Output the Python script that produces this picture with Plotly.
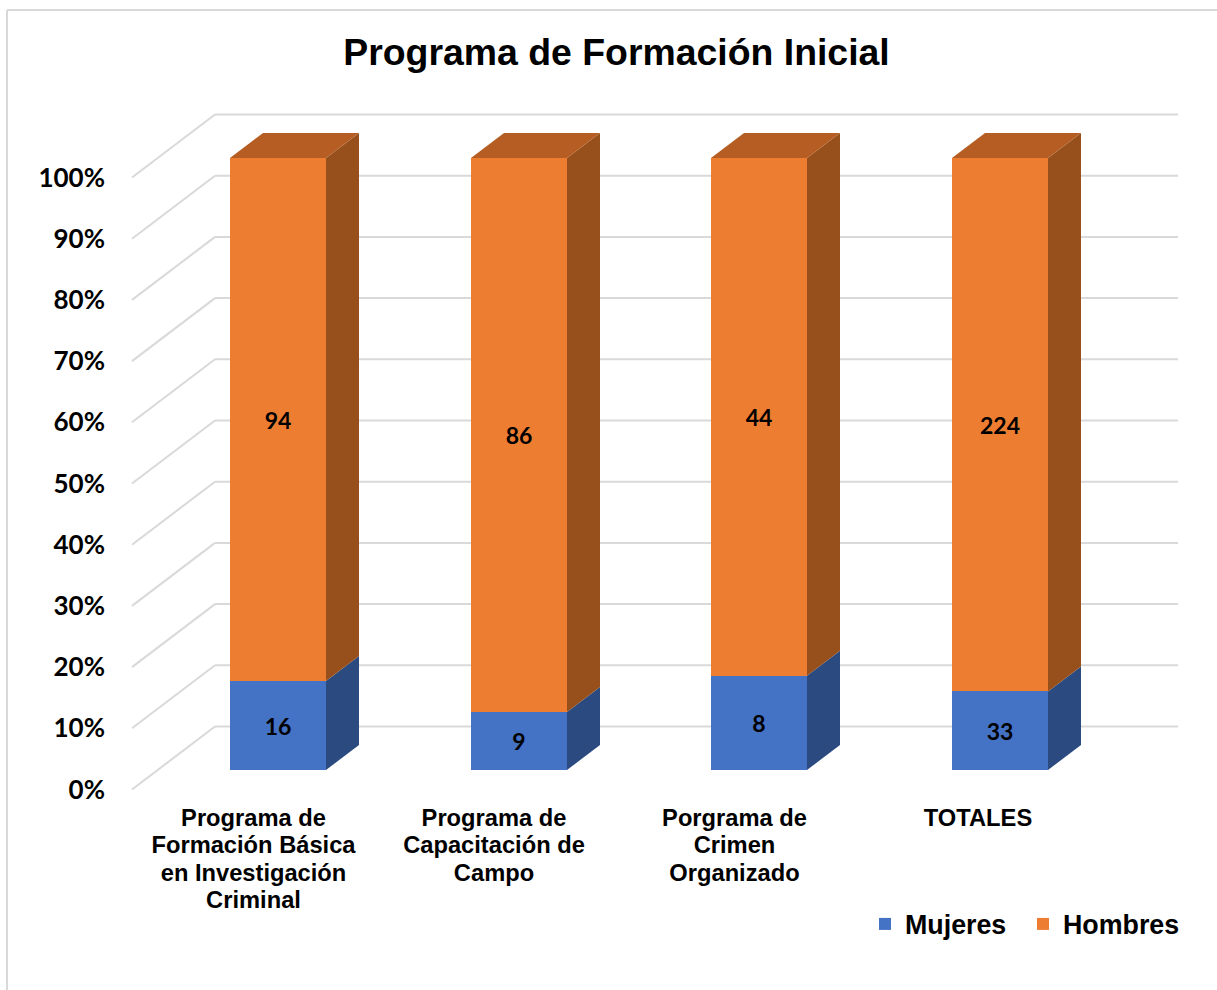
import plotly.graph_objects as go

# ---------- data ----------
categories = ["Programa de<br>Formación Básica<br>en Investigación<br>Criminal",
              "Programa de<br>Capacitación de<br>Campo",
              "Porgrama de<br>Crimen<br>Organizado",
              "TOTALES"]
mujeres = [16, 9, 8, 33]
hombres = [94, 86, 44, 224]
y_ticks = [0, 10, 20, 30, 40, 50, 60, 70, 80, 90, 100]

# ---------- geometry of the oblique 3D look (x axis is in page-pixel units) ----------
W, H = 1217, 990
M_L, M_R, M_T, M_B = 130, 39, 110, 198
PX_PER_PCT = 6.12
Y_BOTTOM = -2.5 / PX_PER_PCT
Y_TOP = (789.5 - M_T) / PX_PER_PCT
BAR_CENTERS = [278, 519, 759, 1000]
LABEL_CENTERS = [253.5, 494, 734.5, 978]
BAR_W = 96
LIFT = 19.5 / PX_PER_PCT          # bar front base above the axis zero
DX, DY = 33, 25 / PX_PER_PCT      # bar depth
WALL_X0, WALL_X1, WALL_DX = 132, 1178, 83
WALL_DY = 63 / PX_PER_PCT

BLUE, ORANGE = "#4472C4", "#ED7D31"
BLUE_SIDE, ORANGE_SIDE, ORANGE_TOP = "#2B4A80", "#97501C", "#B55D22"
GRID = "#D9D9D9"
LABEL_FONT = "Lato, Carlito, Calibri, sans-serif"
TEXT_FONT = "Liberation Sans, Arial, sans-serif"

pct_m = [100 * m / (m + h) for m, h in zip(mujeres, hombres)]
pct_h = [100 * h / (m + h) for m, h in zip(mujeres, hombres)]

fig = go.Figure()

# front faces
fig.add_trace(go.Bar(
    name="Mujeres", x=BAR_CENTERS, y=pct_m, base=[LIFT] * 4, width=BAR_W,
    marker=dict(color=BLUE, line=dict(width=0)),
    text=mujeres, textposition="inside", insidetextanchor="middle", textangle=0,
    constraintext="none", textfont=dict(family=LABEL_FONT, size=23, color="black", weight="bold"),
))
fig.add_trace(go.Bar(
    name="Hombres", x=BAR_CENTERS, y=pct_h, base=[LIFT + p for p in pct_m], width=BAR_W,
    marker=dict(color=ORANGE, line=dict(width=0)),
    text=hombres, textposition="inside", insidetextanchor="middle", textangle=0,
    constraintext="none", textfont=dict(family=LABEL_FONT, size=23, color="black", weight="bold"),
))

# side and top faces, derived from the same values
def face(xs, ys, color):
    fig.add_trace(go.Scatter(x=xs, y=ys, mode="lines", fill="toself", fillcolor=color,
                             line=dict(width=0, color=color), showlegend=False, hoverinfo="skip"))

for cx, pm in zip(BAR_CENTERS, pct_m):
    x1 = cx + BAR_W / 2
    x0 = cx - BAR_W / 2
    y_base, y_mid, y_top = LIFT, LIFT + pm, LIFT + 100
    face([x1, x1 + DX, x1 + DX, x1, x1], [y_base, y_base + DY, y_mid + DY, y_mid, y_base], BLUE_SIDE)
    face([x1, x1 + DX, x1 + DX, x1, x1], [y_mid, y_mid + DY, y_top + DY, y_top, y_mid], ORANGE_SIDE)
    face([x0, x0 + DX, x1 + DX, x1, x0], [y_top, y_top + DY, y_top + DY, y_top, y_top], ORANGE_TOP)

# walls: gridlines on the back and side wall, drawn beneath the bars
shapes = []
for t in y_ticks:
    line = dict(color=GRID, width=2)
    shapes.append(dict(type="line", xref="x", yref="y", layer="below", line=line,
                       x0=WALL_X0, y0=t, x1=WALL_X0 + WALL_DX, y1=t + WALL_DY))
    shapes.append(dict(type="line", xref="x", yref="y", layer="below", line=line,
                       x0=WALL_X0 + WALL_DX, y0=t + WALL_DY, x1=WALL_X1, y1=t + WALL_DY))

# outer chart border (only the top and left edges are visible)
PW, PH = W - M_L - M_R, H - M_T - M_B
def px(x): return (x - M_L) / PW
def py(y): return (H - M_B - y) / PH
border = dict(color=GRID, width=2)
shapes.append(dict(type="line", xref="paper", yref="paper", line=border,
                   x0=px(7), y0=py(10), x1=px(W), y1=py(10)))
shapes.append(dict(type="line", xref="paper", yref="paper", line=border,
                   x0=px(7), y0=py(10), x1=px(7), y1=py(H)))

# tighter line spacing than plotly's default: axis font sets the spacing, span sets the glyph size
tick_text = ["<br>".join(f'<span style="font-size:23.7px">{part}</span>' for part in c.split("<br>"))
             for c in categories]

fig.update_layout(
    width=W, height=H, autosize=False,
    margin=dict(l=M_L, r=M_R, t=M_T, b=M_B, autoexpand=False),
    paper_bgcolor="white", plot_bgcolor="white",
    barmode="overlay", bargap=0,
    title=dict(text="<b>Programa de Formación Inicial</b>", x=616.5 / W, xanchor="center",
               y=1 - 52 / H, yanchor="middle",
               font=dict(family=TEXT_FONT, size=37.4, color="black")),
    xaxis=dict(range=[M_L, W - M_R], showgrid=False, zeroline=False, showline=False, ticks="",
               tickmode="array", tickvals=LABEL_CENTERS, ticktext=tick_text, tickangle=0,
               ticklabelstandoff=12,
               tickfont=dict(family=TEXT_FONT, size=21, color="black", weight="bold")),
    yaxis=dict(range=[Y_BOTTOM, Y_TOP], showgrid=False, zeroline=False, showline=False, ticks="",
               tickmode="array", tickvals=y_ticks, ticktext=[f"{t}%" for t in y_ticks],
               ticklabelstandoff=24,
               tickfont=dict(family=LABEL_FONT, size=26, color="black", weight="bold")),
    legend=dict(orientation="h", x=px(865), xanchor="left", y=py(924), yanchor="middle",
                entrywidth=113, entrywidthmode="pixels",
                traceorder="normal", font=dict(family=TEXT_FONT, size=26.8, color="black", weight="bold"),
                bgcolor="rgba(0,0,0,0)"),
    shapes=shapes,
    showlegend=True,
)

fig.write_html("out.html", config=dict(displayModeBar=False),
               post_script="document.body.style.margin='0';document.documentElement.style.overflow='hidden';")
